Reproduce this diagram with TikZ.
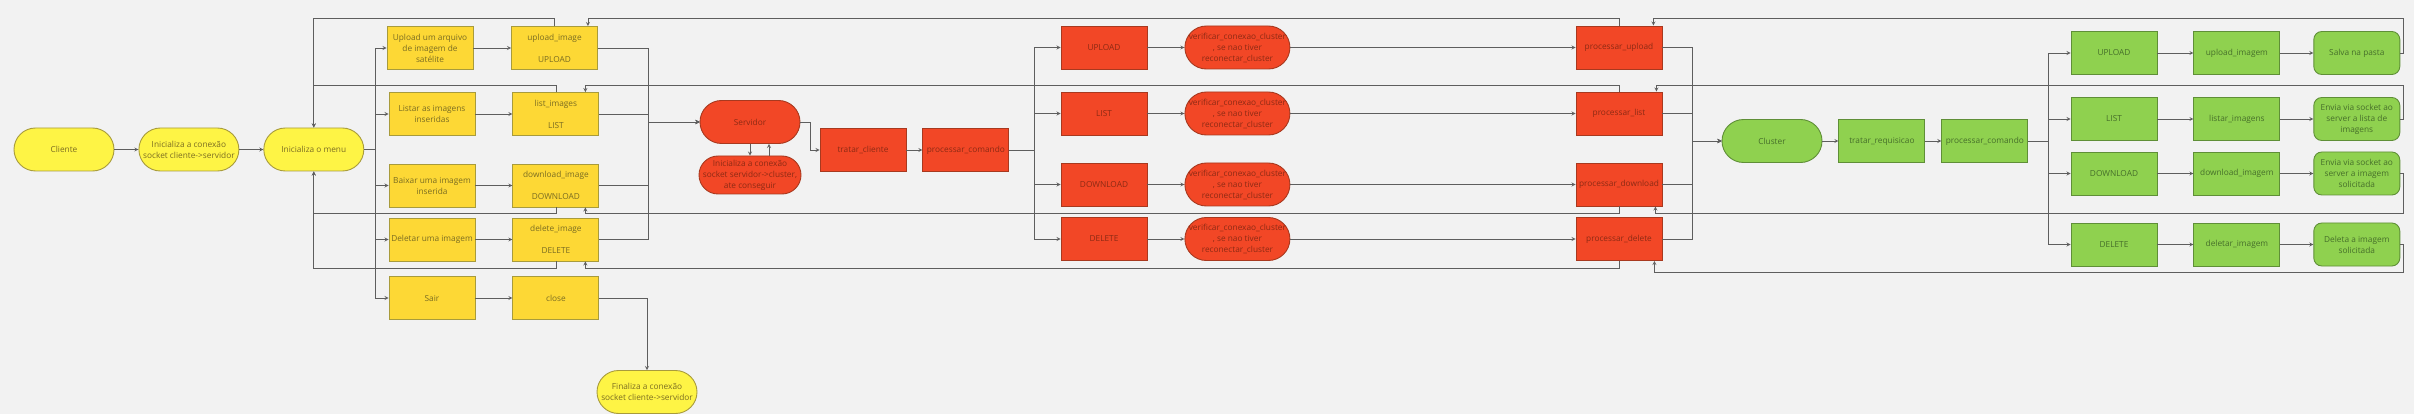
\documentclass[tikz,border=0pt]{standalone}
\usepackage{fontspec}
\setmainfont{Open Sans}
\usepackage{tikz}
\usetikzlibrary{shapes,arrows,positioning}

\definecolor{bgcol}{HTML}{F2F2F2}
\definecolor{wiregray}{HTML}{5E5E5E}
\definecolor{ylwterm}{HTML}{FEF445}
\definecolor{ylwbox}{HTML}{FDD835}
\definecolor{ylwline}{HTML}{A89B3C}
\definecolor{ylwtext}{HTML}{7A6C22}
\definecolor{redfill}{HTML}{F24726}
\definecolor{redline}{HTML}{A8391F}
\definecolor{redtext}{HTML}{8C2A14}
\definecolor{grnfill}{HTML}{8FD14F}
\definecolor{grnline}{HTML}{5F8F37}
\definecolor{grntext}{HTML}{466F2A}

\tikzstyle{blk} = [draw, line width=0.9pt, align=center, inner sep=1pt, minimum height=43pt, font=\fontsize{8.3}{11}\selectfont]
\tikzstyle{yterm} = [blk, fill=ylwterm, draw=ylwline, text=ylwtext, minimum width=100pt, rounded corners=21.5pt]
\tikzstyle{ybox} = [blk, fill=ylwbox, draw=ylwline, text=ylwtext, minimum width=86pt]
\tikzstyle{rterm} = [blk, fill=redfill, draw=redline, text=redtext, minimum width=100pt, rounded corners=21.5pt]
\tikzstyle{rbox} = [blk, fill=redfill, draw=redline, text=redtext, minimum width=86pt]
\tikzstyle{gterm} = [blk, fill=grnfill, draw=grnline, text=grntext, minimum width=100pt, rounded corners=21.5pt]
\tikzstyle{gbox} = [blk, fill=grnfill, draw=grnline, text=grntext, minimum width=86pt]
\tikzstyle{gend} = [gbox, rounded corners=8pt]
\tikzstyle{link} = [draw=wiregray, line width=0.8pt, ->]

\begin{document}
\begin{tikzpicture}[x=1pt, y=-1pt, >=stealth]
            \path[use as bounding box, fill=bgcol] (0,0) rectangle (2414,414);
            \coordinate (railA) at (0,18);
            \coordinate (railB) at (0,85);
            \coordinate (railC) at (0,213);
            \coordinate (railD) at (0,268);
            \coordinate (railE) at (0,272);
            \coordinate (railR) at (2403,0);

            % cliente
            \node[yterm] (cli) at (64,149.5) {Cliente};
            \node[yterm, right=24pt of cli] (ini) {Inicializa a conexão\\socket cliente->servidor};
            \node[yterm, right=24pt of ini] (menu) {Inicializa o menu};

            \node[ybox] (upopt) at (430,48) {Upload um arquivo\\de imagem de\\satélite};
            \node[ybox] (lsopt) at (432,114) {Listar as imagens\\inseridas};
            \node[ybox] (dlopt) at (432,185.5) {Baixar uma imagem\\inserida};
            \node[ybox] (deopt) at (432,239.5) {Deletar uma imagem};
            \node[ybox] (sair) at (432,298) {Sair};

            \node[ybox] (upimg) at (554.5,48) {upload\_image\\[11pt]UPLOAD};
            \node[ybox, right=37pt of lsopt] (lsimg) {list\_images\\[11pt]LIST};
            \node[ybox, right=37pt of dlopt] (dlimg) {download\_image\\[11pt]DOWNLOAD};
            \node[ybox, right=37pt of deopt] (deimg) {delete\_image\\[11pt]DELETE};
            \node[ybox, right=37pt of sair] (close) {close};

            \node[yterm] (fin) at (647,392) {Finaliza a conexão\\socket cliente->servidor};

            % servidor
            \node[rterm] (serv) at (750,122) {Servidor};
            \node[rterm, minimum width=102pt, minimum height=38pt, rounded corners=19pt] (inis) at (750,175) {Inicializa a conexão\\socket servidor->cluster,\\ate conseguir};
            \node[rbox] (tc) at (863,150) {tratar\_cliente};
            \node[rbox, right=16pt of tc] (pc) {processar\_comando};

            \node[rbox] (rup) at (1104,47.5) {UPLOAD};
            \node[rbox] (rls) at (1104,113.5) {LIST};
            \node[rbox] (rdl) at (1104,184.5) {DOWNLOAD};
            \node[rbox] (rde) at (1104,239) {DELETE};
            \foreach \cm in {rup,rls,rdl,rde}
                \node[rterm, minimum width=105pt, right=37pt of \cm] (ver\cm) {verificar\_conexao\_cluster\\, se nao tiver\\reconectar\_cluster};

            \node[rbox] (pup) at (1619,47.5) {processar\_upload};
            \node[rbox] (pls) at (1619,113.5) {processar\_list};
            \node[rbox] (pdl) at (1619,184.5) {processar\_download};
            \node[rbox] (pde) at (1619,239) {processar\_delete};

            % cluster
            \node[gterm] (clu) at (1772,141) {Cluster};
            \node[gbox, right=16pt of clu] (treq) {tratar\_requisicao};
            \node[gbox, right=16pt of treq] (gpc) {processar\_comando};

            \node[gbox] (gup) at (2114,53) {UPLOAD};
            \node[gbox] (gls) at (2114,119) {LIST};
            \node[gbox] (gdl) at (2114,173.5) {DOWNLOAD};
            \node[gbox] (gde) at (2114,244.5) {DELETE};
            \node[gbox, right=36pt of gup] (gfup) {upload\_imagem};
            \node[gbox, right=36pt of gls] (gfls) {listar\_imagens};
            \node[gbox, right=36pt of gdl] (gfdl) {download\_imagem};
            \node[gbox, right=36pt of gde] (gfde) {deletar\_imagem};
            \node[gend, right=33pt of gfup] (salva) {Salva na pasta};
            \node[gend, right=33pt of gfls] (envl) {Envia via socket ao\\server a lista de\\imagens};
            \node[gend, right=33pt of gfdl] (envd) {Envia via socket ao\\server a imagem\\solicitada};
            \node[gend, right=33pt of gfde] (delsol) {Deleta a imagem\\solicitada};

            % ligacoes do cliente
            \coordinate (busA) at (375,149.5);
            \coordinate (busB) at (648,122);
            \draw[link] (cli) -- (ini);
            \draw[link] (ini) -- (menu);
            \foreach \op/\fn in {upopt/upimg, lsopt/lsimg, dlopt/dlimg, deopt/deimg, sair/close} {
                \draw[link] (menu.east) -- (busA) |- (\op.west);
                \draw[link] (\op) -- (\fn);
            }
            \foreach \fn in {upimg,lsimg,dlimg,deimg}
                \draw[link] (\fn.east) -| (busB) -- (serv.west);
            \draw[link] (close.east) -| (fin.north);

            \draw[link] (upimg.north) |- (menu.north |- railA) -- (menu.north);
            \draw[link] (lsimg.north) |- (menu.north |- railB) -- (menu.north);
            \draw[link] (dlimg.south) |- (menu.south |- railC) -- (menu.south);
            \draw[link] (deimg.south) |- (menu.south |- railD) -- (menu.south);

            % ligacoes do servidor
            \coordinate (busC) at (1034,150);
            \coordinate (busD) at (1692,141);
            \draw[link] (serv.south) -- (inis.north);
            \draw[link] ([xshift=19pt]inis.north) -- ([xshift=19pt]serv.south);
            \draw[link] (serv.east) -- ++(10,0) |- (tc.west);
            \draw[link] (tc) -- (pc);
            \foreach \cm/\pr in {rup/pup, rls/pls, rdl/pdl, rde/pde} {
                \draw[link] (pc.east) -- (busC) |- (\cm.west);
                \draw[link] (\cm) -- (ver\cm);
                \draw[link] (ver\cm) -- (\pr);
                \draw[link] (\pr.east) -| (busD) -- (clu.west);
            }

            \draw[link] (pup.north) -- (pup.north |- railA) -| ([xshift=-10pt]upimg.north east);
            \draw[link] (pls.north) -- (pls.north |- railB) -| ([xshift=-14pt]lsimg.north east);
            \draw[link] (pdl.south) -- (pdl.south |- railC) -| ([xshift=-14pt]dlimg.south east);
            \draw[link] (pde.south) -- (pde.south |- railD) -| ([xshift=-14pt]deimg.south east);

            % ligacoes do cluster
            \coordinate (busE) at (2048,141);
            \draw[link] (clu) -- (treq);
            \draw[link] (treq) -- (gpc);
            \foreach \cm/\fn/\rs in {gup/gfup/salva, gls/gfls/envl, gdl/gfdl/envd, gde/gfde/delsol} {
                \draw[link] (gpc.east) -- (busE) |- (\cm.west);
                \draw[link] (\cm) -- (\fn);
                \draw[link] (\fn) -- (\rs);
            }

            \draw[link] (salva.east) -| (railR |- railA) -| ([xshift=-9pt]pup.north east);
            \draw[link] (envl.east) -| (railR |- railB) -| ([xshift=-6pt]pls.north east);
            \draw[link] (envd.east) -| (railR |- railC) -| ([xshift=-7pt]pdl.south east);
            \draw[link] (delsol.east) -| (railR |- railE) -| ([xshift=-8pt]pde.south east);
        \end{tikzpicture}
\end{document}
